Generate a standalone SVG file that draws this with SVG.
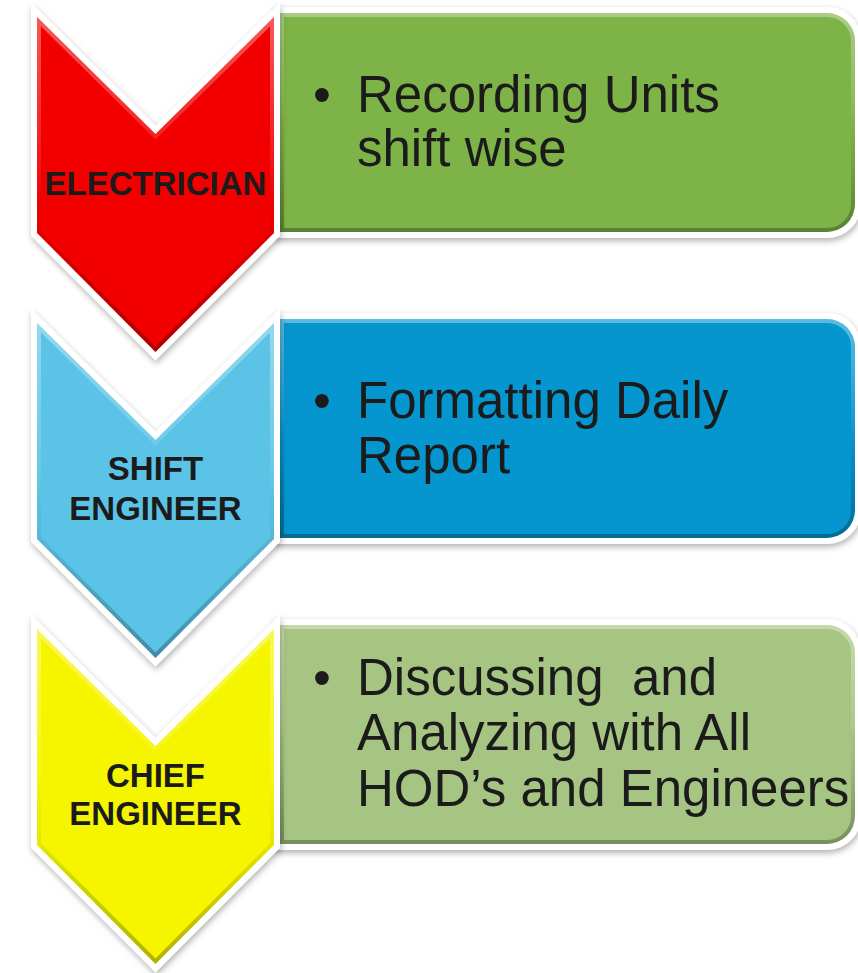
<svg xmlns="http://www.w3.org/2000/svg" width="858" height="973" viewBox="0 0 858 973">
  <style>
    .rim { fill: #ffffff; stroke: #ffffff; stroke-width: 12; stroke-linejoin: miter; filter: url(#softShadow); }
    .bevel { fill: none; stroke: url(#bevelGrad); stroke-width: 8; }
    .role { font-family: "Liberation Sans", Arial, sans-serif; font-weight: bold; font-size: 33px; fill: #1b1b1b; text-anchor: middle; }
    .task { font-family: "Liberation Sans", Arial, sans-serif; font-size: 51px; fill: #1b1b1b; white-space: pre; }
  </style>
  <defs>
    <filter id="softShadow" x="-10%" y="-10%" width="120%" height="125%">
      <feDropShadow dx="1" dy="3" stdDeviation="3" flood-color="#000000" flood-opacity="0.3"/>
    </filter>
    <linearGradient id="bevelGrad" x1="0" y1="0" x2="0" y2="1">
      <stop offset="0" stop-color="#ffffff" stop-opacity="0.35"/>
      <stop offset="0.45" stop-color="#ffffff" stop-opacity="0.08"/>
      <stop offset="0.6" stop-color="#000000" stop-opacity="0.04"/>
      <stop offset="1" stop-color="#000000" stop-opacity="0.28"/>
    </linearGradient>
    <!-- shared shapes, drawn for the first row; later rows are shifted down -->
    <path id="chevron" d="M37,17 L155.5,134 L274,17 L274,233 L155.5,352 L37,233 Z"/>
    <path id="panel" d="M280,13 H827 A28,28 0 0 1 855,41 V204 A28,28 0 0 1 827,232 H280 Z"/>
    <clipPath id="chevronClip"><use href="#chevron"/></clipPath>
    <clipPath id="panelClip"><use href="#panel"/></clipPath>
  </defs>

  <g id="connectors"></g>

  <!-- row 1 -->
  <g id="task-recording">
    <use href="#panel" class="rim"/>
    <use href="#panel" fill="#7eb347"/>
    <use href="#panel" class="bevel" clip-path="url(#panelClip)"/>
    <text class="task"><tspan x="313" y="112">•</tspan><tspan x="357" y="112">Recording Units</tspan><tspan x="357" y="166">shift wise</tspan></text>
  </g>
  <g id="role-electrician">
    <use href="#chevron" class="rim"/>
    <use href="#chevron" fill="#f20000"/>
    <use href="#chevron" class="bevel" clip-path="url(#chevronClip)"/>
    <text class="role" x="155.5" y="195">ELECTRICIAN</text>
  </g>

  <!-- row 2 -->
  <g id="task-formatting" transform="translate(0,306)">
    <use href="#panel" class="rim"/>
    <use href="#panel" fill="#0596cf"/>
    <use href="#panel" class="bevel" clip-path="url(#panelClip)"/>
    <text class="task"><tspan x="313" y="112">•</tspan><tspan x="357" y="112">Formatting Daily</tspan><tspan x="357" y="167">Report</tspan></text>
  </g>
  <g id="role-shift-engineer" transform="translate(0,306)">
    <use href="#chevron" class="rim"/>
    <use href="#chevron" fill="#5bc3e6"/>
    <use href="#chevron" class="bevel" clip-path="url(#chevronClip)"/>
    <text class="role"><tspan x="155.5" y="174">SHIFT</tspan><tspan x="155.5" y="214">ENGINEER</tspan></text>
  </g>

  <!-- row 3 -->
  <g id="task-discussing" transform="translate(0,612)">
    <use href="#panel" class="rim"/>
    <use href="#panel" fill="#a7c582"/>
    <use href="#panel" class="bevel" clip-path="url(#panelClip)"/>
    <text class="task"><tspan x="313" y="83">•</tspan><tspan x="357" y="83">Discussing  and</tspan><tspan x="357" y="138">Analyzing with All</tspan><tspan x="357" y="194">HOD’s and Engineers</tspan></text>
  </g>
  <g id="role-chief-engineer" transform="translate(0,612)">
    <use href="#chevron" class="rim"/>
    <use href="#chevron" fill="#f5f500"/>
    <use href="#chevron" class="bevel" clip-path="url(#chevronClip)"/>
    <text class="role"><tspan x="155.5" y="175">CHIEF</tspan><tspan x="155.5" y="213">ENGINEER</tspan></text>
  </g>
</svg>
